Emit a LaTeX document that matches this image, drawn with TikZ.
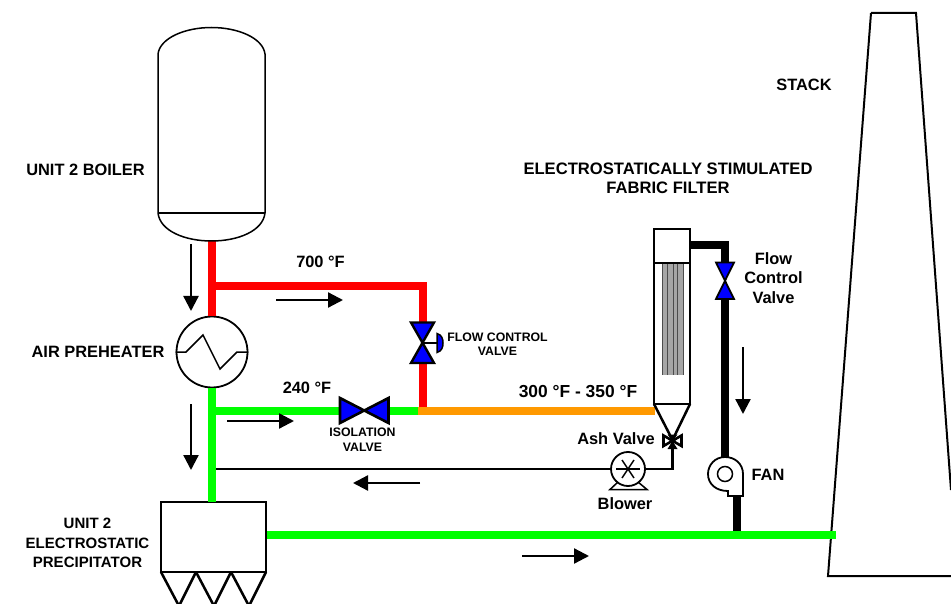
\documentclass[tikz,border=0pt]{standalone}
\usepackage{fontspec}
\setmainfont{Liberation Sans}
\usetikzlibrary{arrows.meta}
\definecolor{pipered}{RGB}{255,0,0}
\definecolor{pipegreen}{RGB}{0,255,0}
\definecolor{pipeorange}{RGB}{255,153,0}
\definecolor{valveblue}{RGB}{0,0,255}
\tikzset{
  outline/.style={draw=black, line width=2pt, line join=miter},
  pipe/.style={line width=8pt},
  hotpipe/.style={pipe, draw=pipered},
  coolpipe/.style={pipe, draw=pipegreen},
  mixpipe/.style={pipe, draw=pipeorange},
  cleanpipe/.style={line width=8pt, draw=black},
  flowarrow/.style={line width=2.3pt, -{Triangle[length=15pt,width=15pt]}},
  lbl/.style={font=\fontsize{16.4}{19.5}\selectfont\bfseries, align=center, inner sep=0pt},
  smalllbl/.style={font=\fontsize{12.3}{14.5}\selectfont\bfseries, align=center, inner sep=0pt},
  valvefill/.style={fill=valveblue, draw=black, line join=miter},
}
\begin{document}
\begin{tikzpicture}[x=1pt,y=-1pt]
\useasboundingbox (0,0) rectangle (951,604);
% equipment
\coordinate (boilerout) at (212,241);
\node[outline, circle, minimum size=71pt, inner sep=0pt, line width=1.8pt] (heater) at (212,352) {};
\node[outline, rectangle, minimum width=105pt, minimum height=70pt, inner sep=0pt, line width=2.5pt] (esp) at (213.5,537) {};
\node[circle, draw, line width=1.8pt, minimum size=34pt, inner sep=0pt] (blower) at (628,469) {};
\coordinate (fantop) at (724.5,458);
\coordinate (fanout) at (736.5,496);
\coordinate (stackin) at (835.5,534.5);
% pipe junctions
\coordinate (teehot) at (212,286.5);
\coordinate (hotcorner) at (422.5,286.5);
\coordinate (teecool) at (212,411);
\coordinate (mix) at (422.5,411);
\coordinate (mixstart) at (418,411);
\coordinate (filterin) at (655,411);
\coordinate (cleanout) at (690,245.5);
\coordinate (cleancorner) at (724.5,245.5);
\coordinate (busfan) at (736.5,531);
\coordinate (ashvalve) at (672.5,440);
\coordinate (airin) at (672.5,469);
\coordinate (airend) at (216,469);
\coordinate (flowtop) at (422.5,322);
\coordinate (flowbot) at (422.5,363);
\coordinate (flowvalve) at (422.5,343);
\coordinate (isoleft) at (340,411);
\coordinate (isoright) at (388,411);
\coordinate (cleantop) at (724.5,263);
\coordinate (cleanbot) at (724.5,299);
% pipes
\draw[hotpipe] (boilerout) -- (heater.north);
\draw[hotpipe, line join=miter] (teehot) -- (hotcorner) -- (flowtop);
\draw[hotpipe] (flowbot) -- (mix);
\draw[coolpipe] (heater.south) -- (212,502);
\draw[coolpipe] (teecool) -- (isoleft);
\draw[coolpipe] (isoright) -- (427,411);
\draw[mixpipe] (mixstart) -- (filterin);
\draw[coolpipe] (esp.east |- stackin) -- (stackin);
\draw[cleanpipe, line join=miter] (cleanout) -- (cleancorner) -- (cleantop);
\draw[cleanpipe] (cleanbot) -- (fantop);
\draw[cleanpipe] (fanout) -- (busfan);
\draw[line width=2.2pt] (blower.west) -- (airend);
\draw[line width=2.2pt, line join=miter] (blower.east) -- (airin) -- (ashvalve);
% boiler
\draw[line width=1.5pt, fill=white] (158,54) .. controls (160,38) and (185,27.5) .. (211.5,27.5)
  .. controls (238,27.5) and (263,38) .. (265,54) -- (265,213)
  .. controls (263,231) and (238,241) .. (211.5,241)
  .. controls (185,241) and (160,231) .. (158,213) -- cycle;
\draw[line width=1.5pt] (158,213) -- (265,213);
% air preheater coil
\draw[line width=1.5pt, line join=miter] (heater.west) -- (186,352) -- (203,335) -- (220,369) -- (237,352) -- (heater.east);
% precipitator hoppers
\foreach \x in {161,196,231} {
  \draw[line width=2.5pt, line join=miter] (\x,572) -- (\x+18,606) -- (\x+35,572);
}
% filter
\fill[black!35] (662,263) rectangle (683,375);
\foreach \x in {662,667.5,673,677.5,683} {
  \draw[black!70, line width=1pt] (\x,263) -- (\x,375);
}
\draw[outline, line width=2.5pt] (654,229) rectangle (690,404);
\draw[outline, line width=2.5pt] (654,263) -- (690,263);
\draw[outline, line width=2.5pt] (654,404) -- (ashvalve) -- (690,404);
% ash valve
\draw[line width=2.6pt, fill=white, line join=miter] (663.5,435.5) -- (663.5,446) -- (681.5,435.5) -- (681.5,446) -- cycle;
\fill (667.5,434.5) -- (677.5,434.5) -- (672.5,441) -- (677.5,449) -- (667.5,449) -- (672.5,441) -- cycle;
% blower
\draw[line width=1.5pt] (blower.center) ++(-12,0) -- ++(24,0);
\draw[line width=1.5pt] (blower.center) ++(-6,-9) -- ++(12,18);
\draw[line width=1.5pt] (blower.center) ++(6,-9) -- ++(-12,18);
\draw[line width=1.5pt, line join=miter] (618,482) -- (610,489.5) -- (647,489.5) -- (638,482);
% fan
\draw[line width=1.8pt, fill=white, line join=miter] (743,496) -- (743,474) .. controls (743,464) and (735,457) .. (725,457)
  .. controls (715,457) and (708,465) .. (708,474)
  .. controls (708,484) and (716,491) .. (728,491) -- (728,496) -- cycle;
\node[circle, draw, line width=1.5pt, minimum size=15pt, inner sep=0pt] (fanhub) at (725,474) {};
% stack
\draw[outline] (871,13) -- (916,13) -- (951,490);
\draw[outline] (871,13) -- (828,576) -- (951,576);
\draw[coolpipe] (822,534.5) -- (stackin);
% valves
\draw[valvefill, line width=2.4pt] (411,322.5) -- (434,322.5) -- (411,363) -- (434,363) -- cycle;
\draw[line width=2pt] (flowvalve) -- (437,343);
\draw[fill=valveblue, draw=black, line width=1.5pt] (437,333.5) .. controls (442,335) and (443,339) .. (443,343) .. controls (443,347) and (442,351) .. (437,352.5) -- cycle;
\draw[valvefill, line width=2.6pt] (340,398) -- (340,423) -- (388.5,398) -- (388.5,423) -- cycle;
\draw[valvefill, line width=1.8pt] (716,262.5) -- (734,262.5) -- (716,299) -- (734,299) -- cycle;
% flow arrows
\foreach \xa/\ya/\xb/\yb in {191/244/191/311, 276/300/343/300, 191/404/191/470, 227/421/294/421, 420/483/353/483, 743/347/743/414, 522/556/589/556} {
  \draw[flowarrow] (\xa,\ya) -- (\xb,\yb);
}
% labels
\node[lbl] (boilerlbl) at (85.5,170) {UNIT 2 BOILER};
\node[lbl] (hotlbl) at (320.5,262) {700 °F};
\node[lbl] (heaterlbl) at (98,352) {AIR PREHEATER};
\node[lbl] (coollbl) at (307,388) {240 °F};
\node[smalllbl] (isolbl) at (362.5,439.5) {ISOLATION\\VALVE};
\node[smalllbl] (flowlbl) at (497.5,344) {FLOW CONTROL\\VALVE};
\node[lbl, font=\fontsize{17.4}{19.5}\selectfont\bfseries] (mixlbl) at (578,392) {300 °F - 350 °F};
\node[lbl] (stacklbl) at (804,85) {STACK};
\node[lbl, font=\fontsize{16.6}{19.5}\selectfont\bfseries] (filterlbl) at (668,178.5) {ELECTROSTATICALLY STIMULATED\\FABRIC FILTER};
\node[lbl] (cleanlbl) at (773.5,278) {Flow\\Control\\Valve};
\node[lbl] (ashlbl) at (616,439) {Ash Valve};
\node[lbl] (blowerlbl) at (625,504) {Blower};
\node[lbl] (fanlbl) at (768,474.5) {FAN};
\node[lbl, font=\fontsize{15}{19.5}\selectfont\bfseries] (esplbl) at (87.5,543) {UNIT 2\\ELECTROSTATIC\\PRECIPITATOR};
\end{tikzpicture}
\end{document}
